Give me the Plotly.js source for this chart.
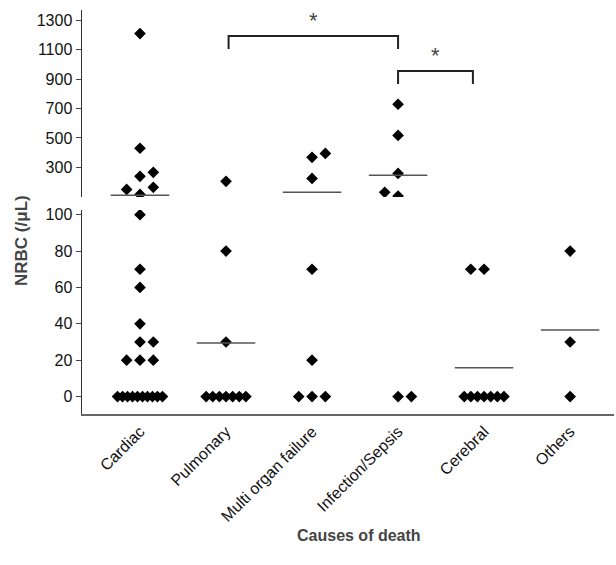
<!DOCTYPE html>
<html><head><meta charset="utf-8">
<script src="https://cdn.plot.ly/plotly-3.0.1.min.js"></script>
<style>body{margin:0}</style></head>
<body><div id="chart" style="width:616px;height:565px"></div>
<script>
// categories and values (NRBC /uL), slot = horizontal jitter slot
var categories = ['Cardiac', 'Pulmonary', 'Multi organ failure', 'Infection/Sepsis', 'Cerebral', 'Others'];
var cardiacVals = [1210, 430, 266, 239, 164, 150, 116, 100, 70, 60, 40, 30, 30, 20, 20, 20, 0, 0, 0, 0, 0, 0, 0, 0, 0, 0];
var cardiacSlot = [0, 0, 1, 0, 1, -1, 0, 0, 0, 0, 0, 0, 1, -1, 0, 1];
var pulmonaryVals = [205, 80, 30, 0, 0, 0, 0, 0, 0, 0];
var pulmonarySlot = [0, 0, 0];
var multiVals = [395, 368, 225, 70, 20, 0, 0, 0];
var multiSlot = [1, 0, 0, 0, 0, -1, 0, 1];
var infectionVals = [729, 517, 259, 130, 105, 0, 0];
var infectionSlot = [0, 0, 0, -1, 0, 0, 1];
var cerebralVals = [70, 70, 0, 0, 0, 0, 0, 0, 0];
var cerebralSlot = [-1, 0];
var othersVals = [80, 30, 0];
var othersSlot = [0, 0, 0];
var medians = [110, 29.5, 130, 246, 15.8, 36.6];

var allVals = [cardiacVals, pulmonaryVals, multiVals, infectionVals, cerebralVals, othersVals];
var allSlots = [cardiacSlot, pulmonarySlot, multiSlot, infectionSlot, cerebralSlot, othersSlot];

var BREAK = 100;
var lx = [], ly = [], ux = [], uy = [];
for (let i = 0; i < allVals.length; i++) {
  var vals = allVals[i], slots = allSlots[i];
  var nz = vals.filter(function(v){return v === 0;}).length;
  var zi = 0;
  for (let j = 0; j < vals.length; j++) {
    var v = vals[j], off;
    if (j < slots.length) off = slots[j] * 0.155;
    else { // spread the zero row
      var step = nz > 8 ? 0.058 : 0.077;
      off = (zi - (nz - 1) / 2) * step; zi++;
    }
    if (v > BREAK) { ux.push(i + off); uy.push(v); }
    else { lx.push(i + off); ly.push(v); }
  }
}

var mk = {symbol: 'diamond', size: 9, color: 'black'};
var data = [
  {x: lx, y: ly, type: 'scatter', mode: 'markers', marker: mk, yaxis: 'y'},
  {x: ux, y: uy, type: 'scatter', mode: 'markers', marker: mk, yaxis: 'y2'}
];
for (let i = 0; i < medians.length; i++) {
  data.push({x: [i - 0.34, i + 0.34], y: [medians[i], medians[i]], type: 'scatter', mode: 'lines',
    line: {color: '#555', width: 1.5}, yaxis: medians[i] > BREAK ? 'y2' : 'y'});
}

var tickFont = {family: 'Liberation Sans, Arial', size: 16, color: '#111'};
var layout = {
  showlegend: false,
  margin: {l: 82, r: 2, t: 10, b: 151},
  plot_bgcolor: 'white', paper_bgcolor: 'white',
  xaxis: {range: [-0.674, 5.51], tickmode: 'array', tickvals: [0,1,2,3,4,5], ticktext: categories,
    tickangle: -45, showline: true, linecolor: '#666', linewidth: 2, ticks: '', showgrid: false,
    zeroline: false, tickfont: tickFont},
  yaxis: {domain: [0, 0.505], range: [-9.6, 102.6], tickvals: [0,20,40,60,80,100], showline: true,
    linecolor: '#333', linewidth: 1.5, ticks: 'outside', ticklen: 5, showgrid: false, zeroline: false, tickfont: tickFont},
  yaxis2: {domain: [0.537, 1], range: [98, 1370], tickvals: [300,500,700,900,1100,1300], anchor: 'x',
    showline: true, linecolor: '#333', linewidth: 1.5, ticks: 'outside', ticklen: 5, showgrid: false,
    zeroline: false, tickfont: tickFont},
  shapes: [
    {type: 'path', xref: 'x', yref: 'y2', path: 'M 1.03 1105 L 1.03 1193 L 3.0 1193 L 3.0 1105', line: {color: '#222', width: 2}},
    {type: 'path', xref: 'x', yref: 'y2', path: 'M 3.0 867 L 3.0 955 L 3.87 955 L 3.87 867', line: {color: '#222', width: 2}}
  ],
  annotations: [
    {text: '*', x: 2.02, y: 1300, xref: 'x', yref: 'y2', showarrow: false, font: {size: 22, family: 'Liberation Sans'}},
    {text: '*', x: 3.43, y: 1060, xref: 'x', yref: 'y2', showarrow: false, font: {size: 22, family: 'Liberation Sans'}},
    {text: '<b>NRBC (/μL)</b>', textangle: -90, xref: 'paper', yref: 'paper', x: -0.135, y: 0.43,
      showarrow: false, font: {size: 17, family: 'Liberation Sans'}},
    {text: '<b>Causes of death</b>', xref: 'paper', yref: 'paper', x: 0.52, y: -0.327,
      showarrow: false, font: {size: 16, family: 'Liberation Sans'}}
  ]
};
Plotly.newPlot('chart', data, layout, {displayModeBar: false, staticPlot: true});
</script></body></html>
